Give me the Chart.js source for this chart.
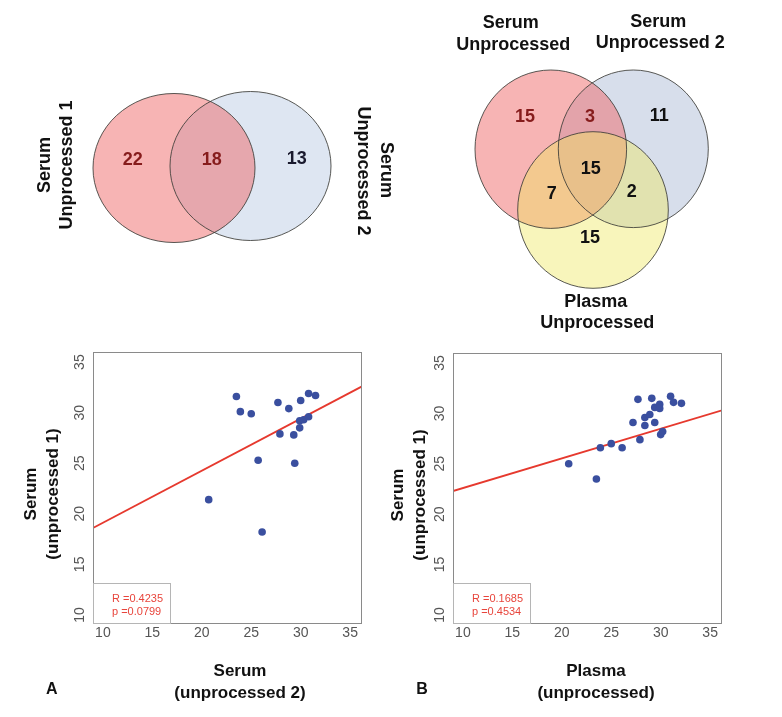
<!DOCTYPE html>
<html>
<head>
<meta charset="utf-8">
<script src="https://cdn.jsdelivr.net/npm/chart.js@4.4.0/dist/chart.umd.min.js"></script>
<style>
    html, body { margin: 0; padding: 0; background: #fff; }
    #page { position: relative; width: 782px; height: 717px; overflow: hidden; }
    #page canvas { position: absolute; }
</style>
</head>
<body>
<div id="page">
    <canvas id="venn" width="782" height="340" style="left:0;top:0"></canvas>
    <canvas id="scatterA" width="391" height="377" style="left:0;top:340px"></canvas>
    <canvas id="scatterB" width="391" height="377" style="left:391px;top:340px"></canvas>
</div>
<script>
// --- data ---
// Venn counts
const venn1Counts = [22, 18, 13];               // serum 1 only, shared, serum 2 only
const venn2Counts = [15, 3, 11, 7, 15, 2, 15];  // S only, S&S2, S2 only, S&P, all, S2&P, P only

// Panel A: serum (unprocessed 2) vs serum (unprocessed 1)
const serum2A = [23.5, 23.9, 25.0, 25.7, 20.7, 26.1, 27.7, 27.9, 28.8, 29.3, 29.4, 29.9, 30.0, 29.9, 30.3, 30.8, 30.8, 31.5];
const serum1A = [31.6, 30.1, 29.9, 25.3, 21.4, 18.2, 31.0, 27.9, 30.4, 27.8, 25.0, 28.5, 31.2, 29.2, 29.3, 31.9, 29.6, 31.7];
const fitAx = [9, 36.2];
const fitAy = [18.6, 32.6];
const statsA = ['R =0.4235', 'p =0.0799'];

// Panel B: plasma (unprocessed) vs serum (unprocessed 1)
const plasmaB = [20.7, 23.5, 23.9, 25.0, 26.1, 27.2, 27.7, 27.9, 28.4, 28.4, 28.9, 29.1, 29.4, 29.4, 29.9, 29.9, 30.0, 30.2, 31.0, 31.3, 32.1];
const serum1B = [25.0, 23.5, 26.6, 27.0, 26.6, 29.1, 31.4, 27.4, 29.6, 28.8, 29.9, 31.5, 30.6, 29.1, 30.9, 30.5, 27.9, 28.2, 31.7, 31.1, 31.0];
const fitBx = [9, 36.2];
const fitBy = [22.3, 30.3];
const statsB = ['R =0.1685', 'p =0.4534'];

const xTickVals = [10, 15, 20, 25, 30, 35];
const yTickVals = [10, 15, 20, 25, 30, 35];

// --- layout (pixel space of the venn canvas) ---
const FONT = '"Liberation Sans", Arial, sans-serif';
const DARKRED = '#861c1c';
const vennCircles = [
    { cx: 250.5, cy: 166, rx: 80.5, ry: 74.5, fill: 'rgba(190,205,230,0.5)' },
    { cx: 174, cy: 168, rx: 81, ry: 74.5, fill: 'rgba(240,105,105,0.5)' },
    { cx: 633.3, cy: 148.8, rx: 75, ry: 78.8, fill: 'rgba(175,190,215,0.5)' },
    { cx: 550.8, cy: 149.2, rx: 75.8, ry: 79.2, fill: 'rgba(240,105,105,0.5)' },
    { cx: 593, cy: 210, rx: 75.3, ry: 78.3, fill: 'rgba(238,230,92,0.42)' }
];
const venn1Spots = [{ x: 132.7, y: 160 }, { x: 211.7, y: 160 }, { x: 296.7, y: 159 }];
const venn1Colors = [DARKRED, DARKRED, '#1a1a2e'];
const venn2Spots = [{ x: 525, y: 116.7 }, { x: 590, y: 116.7 }, { x: 659.3, y: 116 }, { x: 551.7, y: 194 },
                    { x: 590.7, y: 169 }, { x: 631.7, y: 191.7 }, { x: 590, y: 237.7 }];
const venn2Colors = [DARKRED, DARKRED, '#111', '#111', '#111', '#111', '#111'];
const vennLabels = [
    { text: 'Serum', x: 45, y: 165, rot: -90 },
    { text: 'Unprocessed 1', x: 66.7, y: 165, rot: -90 },
    { text: 'Serum', x: 385.5, y: 170, rot: 90 },
    { text: 'Unprocessed 2', x: 362.5, y: 171, rot: 90 },
    { text: 'Serum', x: 510.7, y: 23.3, rot: 0 },
    { text: 'Unprocessed', x: 513.3, y: 45, rot: 0 },
    { text: 'Serum', x: 658.3, y: 21.7, rot: 0 },
    { text: 'Unprocessed 2', x: 660.3, y: 43.3, rot: 0 },
    { text: 'Plasma', x: 595.7, y: 301.7, rot: 0 },
    { text: 'Unprocessed', x: 597.3, y: 322.7, rot: 0 }
];

Chart.defaults.font.family = FONT;

// Venn drawing: circles under the count points, set names on top
const vennPlugin = {
    id: 'venn',
    beforeDatasetsDraw(chart) {
        const { ctx, scales: { x, y } } = chart;
        const px = v => x.getPixelForValue(v), py = v => y.getPixelForValue(v);
        const shape = c => {
            ctx.beginPath();
            ctx.ellipse(px(c.cx), py(c.cy), Math.abs(px(c.cx + c.rx) - px(c.cx)), Math.abs(py(c.cy + c.ry) - py(c.cy)), 0, 0, Math.PI * 2);
        };
        ctx.save();
        vennCircles.forEach(c => { shape(c); ctx.fillStyle = c.fill; ctx.fill(); });
        ctx.strokeStyle = 'rgba(60,60,55,0.85)';
        ctx.lineWidth = 1;
        vennCircles.forEach(c => { shape(c); ctx.stroke(); });
        ctx.restore();
    },
    afterDatasetsDraw(chart) {
        const { ctx, scales: { x, y } } = chart;
        ctx.save();
        ctx.textAlign = 'center';
        ctx.textBaseline = 'middle';
        ctx.font = 'bold 18px ' + FONT;
        chart.data.datasets.forEach((ds, di) => {
            chart.getDatasetMeta(di).data.forEach((pt, i) => {
                ctx.fillStyle = ds.textColors[i];
                ctx.fillText(String(ds.data[i].count), pt.x, pt.y);
            });
        });
        ctx.fillStyle = '#111';
        vennLabels.forEach(l => {
            ctx.save();
            ctx.translate(x.getPixelForValue(l.x), y.getPixelForValue(l.y));
            ctx.rotate(l.rot * Math.PI / 180);
            ctx.fillText(l.text, 0, 0);
            ctx.restore();
        });
        ctx.restore();
    }
};

new Chart(document.getElementById('venn'), {
    type: 'scatter',
    data: {
        datasets: [
            { data: venn1Counts.map((c, i) => ({ x: venn1Spots[i].x, y: venn1Spots[i].y, count: c })), textColors: venn1Colors, pointRadius: 0 },
            { data: venn2Counts.map((c, i) => ({ x: venn2Spots[i].x, y: venn2Spots[i].y, count: c })), textColors: venn2Colors, pointRadius: 0 }
        ]
    },
    options: {
        responsive: false, animation: false,
        layout: { padding: 0 },
        scales: {
            x: { type: 'linear', min: 0, max: 782, display: false },
            y: { type: 'linear', min: 0, max: 340, reverse: true, display: false }
        },
        plugins: { legend: { display: false }, tooltip: { enabled: false } }
    },
    plugins: [vennPlugin]
});

// Scatter frame, stats box, rotated y ticks and titles
const framePlugin = {
    id: 'frame',
    afterDraw(chart, args, o) {
        const { ctx, chartArea: a, scales: { y } } = chart;
        ctx.save();
        ctx.strokeStyle = '#8a8a8a';
        ctx.lineWidth = 1;
        ctx.strokeRect(a.left + 0.5, a.top + 0.5, a.right - a.left - 1, a.bottom - a.top - 1);
        ctx.strokeStyle = '#b5b5b5';
        ctx.strokeRect(a.left + 0.5, a.bottom - 40.5, 77, 40);

        ctx.fillStyle = '#e8453c';
        ctx.font = '11px ' + FONT;
        ctx.textAlign = 'left';
        ctx.textBaseline = 'middle';
        o.stats.forEach((s, i) => ctx.fillText(s, a.left + 19, a.bottom - 25 + i * 13));

        ctx.fillStyle = '#555';
        ctx.font = '14px ' + FONT;
        ctx.textAlign = 'center';
        yTickVals.forEach(v => {
            ctx.save();
            ctx.translate(a.left - 13, y.getPixelForValue(v));
            ctx.rotate(-Math.PI / 2);
            ctx.fillText(String(v), 0, 0);
            ctx.restore();
        });

        ctx.fillStyle = '#111';
        ctx.font = 'bold 17px ' + FONT;
        o.yTitle.forEach((t, i) => {
            ctx.save();
            ctx.translate(o.yTitleX[i], o.yTitleY);
            ctx.rotate(-Math.PI / 2);
            ctx.fillText(t, 0, 0);
            ctx.restore();
        });
        o.xTitle.forEach((t, i) => ctx.fillText(t, o.xTitleX, o.xTitleY[i]));
        ctx.font = 'bold 16px ' + FONT;
        ctx.fillText(o.panel, o.panelX, o.panelY);
        ctx.restore();
    }
};

const makeScatter = (id, xs, ys, fx, fy, frame, pad, yWidth) => new Chart(document.getElementById(id), {
    type: 'scatter',
    data: {
        datasets: [
            { data: xs.map((v, i) => ({ x: v, y: ys[i] })), backgroundColor: '#3a4f9f', borderWidth: 0, pointRadius: 3.8, order: 0 },
            { type: 'line', data: fx.map((v, i) => ({ x: v, y: fy[i] })), borderColor: '#e6392e', borderWidth: 1.8, pointRadius: 0, order: 1 }
        ]
    },
    options: {
        responsive: false, animation: false,
        layout: { padding: pad },
        scales: {
            x: {
                type: 'linear', min: 9, max: 36.2,
                afterBuildTicks: s => { s.ticks = xTickVals.map(v => ({ value: v })); },
                afterFit: s => { s.height = 93; },
                grid: { display: false, drawTicks: false },
                border: { display: false },
                ticks: { color: '#555', font: { size: 14 }, padding: 1, maxRotation: 0 }
            },
            y: {
                type: 'linear', min: 9.1, max: 36,
                afterBuildTicks: s => { s.ticks = yTickVals.map(v => ({ value: v })); },
                afterFit: s => { s.width = yWidth; },
                grid: { display: false, drawTicks: false },
                border: { display: false },
                ticks: { display: false }
            }
        },
        plugins: { legend: { display: false }, tooltip: { enabled: false }, frame }
    },
    plugins: [framePlugin]
});

makeScatter('scatterA', serum2A, serum1A, fitAx, fitAy, {
    stats: statsA, yTitle: ['Serum', '(unprocessed 1)'], yTitleX: [31.7, 53.3], yTitleY: 154,
    xTitle: ['Serum', '(unprocessed 2)'], xTitleX: 240, xTitleY: [331.7, 353], panel: 'A', panelX: 51.7, panelY: 350
}, { left: 0, top: 12, right: 29, bottom: 0 }, 93);

makeScatter('scatterB', plasmaB, serum1B, fitBx, fitBy, {
    stats: statsB, yTitle: ['Serum', '(unprocessed 1)'], yTitleX: [7.5, 29], yTitleY: 155,
    xTitle: ['Plasma', '(unprocessed)'], xTitleX: 205, xTitleY: [331.7, 353], panel: 'B', panelX: 31, panelY: 350
}, { left: 0, top: 13, right: 60, bottom: 0 }, 62);
</script>
</body>
</html>
